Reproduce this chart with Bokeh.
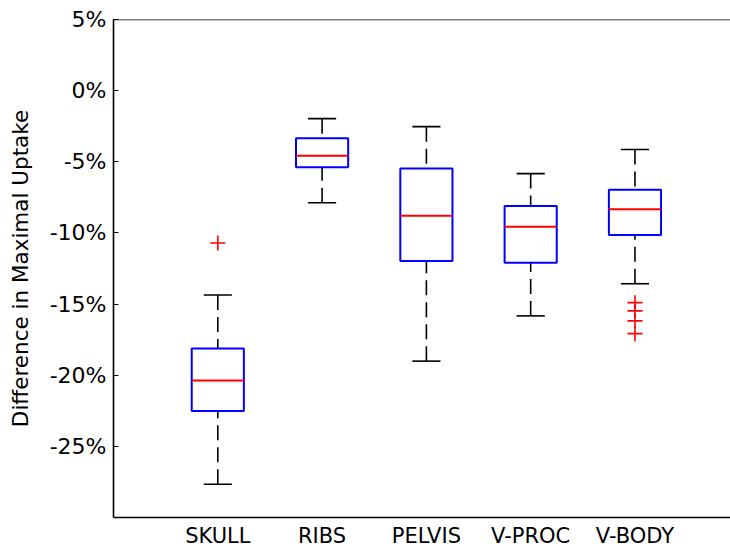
import numpy as np
from bokeh.plotting import figure
from bokeh.models import (Range1d, FixedTicker, PrintfTickFormatter, Span,
                          ColumnDataSource)
from bokeh.embed import file_html
from bokeh.resources import INLINE

# Box-plot statistics per skeletal region (percent difference in maximal uptake)
categories = ["SKULL", "RIBS", "PELVIS", "V-PROC", "V-BODY"]
upper_whisker = [-14.36, -1.97, -2.53, -5.83, -4.14]
q3 = [-18.13, -3.35, -5.48, -8.11, -6.97]
median = [-20.38, -4.58, -8.79, -9.57, -8.34]
q1 = [-22.52, -5.39, -11.97, -12.09, -10.15]
lower_whisker = [-27.66, -7.88, -19.01, -15.83, -13.57]

# Outlying observations
outlier_category = ["SKULL", "V-BODY", "V-BODY", "V-BODY", "V-BODY"]
outlier_value = [-10.71, -14.90, -15.48, -16.18, -17.08]

y_ticks = [-25, -20, -15, -10, -5, 0, 5]

FONT = "DejaVu Sans"
BOX_HALF = 0.25
CAP_HALF = 0.135

pos = np.arange(1, len(categories) + 1, dtype=float)
index = {c: i + 1 for i, c in enumerate(categories)}

src = ColumnDataSource(dict(
    x=pos,
    left=pos - BOX_HALF, right=pos + BOX_HALF,
    cap_l=pos - CAP_HALF, cap_r=pos + CAP_HALF,
    uw=upper_whisker, q3=q3, med=median, q1=q1, lw=lower_whisker,
))
out_src = ColumnDataSource(dict(
    x=[index[c] for c in outlier_category], y=outlier_value,
))

p = figure(width=730, height=550, output_backend="svg", toolbar_location=None,
           x_range=Range1d(0, 5.916), y_range=Range1d(-30, 5),
           min_border_left=113, min_border_right=0,
           min_border_top=19, min_border_bottom=29)

p.background_fill_color = "white"
p.border_fill_color = "white"
p.outline_line_color = None
p.xgrid.grid_line_color = None
p.ygrid.grid_line_color = None

# whiskers: dashed from cap to box edge
p.segment(x0="x", y0="uw", x1="x", y1="q3", source=src, line_color="black",
          line_width=1.6, line_dash="15 7")
p.segment(x0="x", y0="lw", x1="x", y1="q1", source=src, line_color="black",
          line_width=1.6, line_dash="15 7")
# whisker caps
p.segment(x0="cap_l", y0="uw", x1="cap_r", y1="uw", source=src,
          line_color="black", line_width=1.6)
p.segment(x0="cap_l", y0="lw", x1="cap_r", y1="lw", source=src,
          line_color="black", line_width=1.6)
# boxes
p.quad(left="left", right="right", top="q3", bottom="q1", source=src,
       fill_color=None, line_color="#0000FF", line_width=2)
# medians
p.segment(x0="left", y0="med", x1="right", y1="med", source=src,
          line_color="#FF0000", line_width=2)
# outliers
p.scatter(x="x", y="y", source=out_src, marker="cross", size=15,
          line_color="#FF0000", line_width=1.6)

# top border of the axes box
p.add_layout(Span(location=5, dimension="width", line_color="black",
                  line_width=1.6))

xa = p.xaxis[0]
xa.ticker = FixedTicker(ticks=list(pos))
xa.major_label_overrides = {int(v): c for v, c in zip(pos, categories)}
xa.major_tick_line_color = None
xa.major_tick_out = 0
xa.major_tick_in = 0
xa.minor_tick_line_color = None
xa.major_label_standoff = 6
xa.major_label_text_font = FONT
xa.major_label_text_font_size = "21px"
xa.major_label_text_color = "black"
xa.axis_line_color = "black"
xa.axis_line_width = 1.6

ya = p.yaxis[0]
ya.ticker = FixedTicker(ticks=y_ticks)
ya.formatter = PrintfTickFormatter(format="%d%%")
ya.major_tick_in = 5
ya.major_tick_out = 0
ya.major_tick_line_color = "black"
ya.minor_tick_line_color = None
ya.major_label_standoff = 7
ya.major_label_text_font = FONT
ya.major_label_text_font_size = "22px"
ya.major_label_text_color = "black"
ya.axis_line_color = "black"
ya.axis_line_width = 1.6
ya.axis_label = "Difference in Maximal Uptake"
ya.axis_label_text_font = FONT
ya.axis_label_text_font_size = "21.5px"
ya.axis_label_text_font_style = "normal"
ya.axis_label_text_color = "black"
ya.axis_label_standoff = 14

open("out.html", "w").write(file_html(p, INLINE))
